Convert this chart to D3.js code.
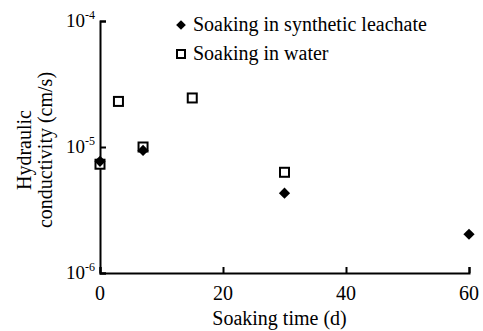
<!DOCTYPE html>
<html>
<head>
<meta charset="utf-8">
<script src="https://cdn.jsdelivr.net/npm/d3@7"></script>
<style>
  body { margin: 0; background: #fff; }
</style>
</head>
<body>
<div id="chart"></div>
<script>
// data
var leachateDays = [0, 7, 30, 60];
var leachateK = [7.7e-6, 9.4e-6, 4.3e-6, 2.03e-6];
var waterDays = [0, 3, 7, 15, 30];
var waterK = [7.3e-6, 2.3e-5, 1.0e-5, 2.45e-5, 6.3e-6];
var xTicks = [0, 20, 40, 60];
var yTicks = [1e-6, 1e-5, 1e-4];
var yExponents = ["-6", "-5", "-4"];
var legendLabels = ["Soaking in synthetic leachate", "Soaking in water"];

var width = 483, height = 331;
var margin = { top: 21, right: 14, bottom: 58, left: 100 };
var serif = "'Liberation Serif', 'Times New Roman', serif";

var svg = d3.select("#chart")
    .append("svg")
    .attr("width", width)
    .attr("height", height)
    .attr("font-family", serif);

var x = d3.scaleLinear()
    .domain([0, 60])
    .range([margin.left, width - margin.right]);

var y = d3.scaleLog()
    .domain([1e-6, 1e-4])
    .range([height - margin.bottom, margin.top]);

// axes, ticks pointing inward
var xAxis = svg.append("g")
    .attr("transform", "translate(0," + (height - margin.bottom) + ")")
    .call(d3.axisTop(x).tickValues(xTicks).tickSize(6).tickFormat(""));
var yAxis = svg.append("g")
    .attr("transform", "translate(" + margin.left + ",0)")
    .call(d3.axisRight(y).tickValues(yTicks).tickSize(6).tickFormat(""));

[xAxis, yAxis].forEach(function (g) {
    g.select(".domain").attr("stroke", "#000").attr("stroke-width", 2);
    g.selectAll(".tick line").attr("stroke", "#000").attr("stroke-width", 2);
});

// tick labels
svg.selectAll(".xlab")
    .data(xTicks)
    .enter()
    .append("text")
    .attr("x", function (d) { return x(d); })
    .attr("y", height - margin.bottom + 27)
    .attr("text-anchor", "middle")
    .style("font-size", "20px")
    .text(function (d) { return d; });

var ylab = svg.selectAll(".ylab")
    .data(yTicks)
    .enter()
    .append("text")
    .attr("x", margin.left - 5)
    .attr("y", function (d) { return y(d) + 6; })
    .attr("text-anchor", "end")
    .style("font-size", "19px");
ylab.append("tspan").text("10");
ylab.append("tspan")
    .attr("dy", -8)
    .style("font-size", "12px")
    .text(function (d, i) { return yExponents[i]; });

// axis titles
svg.append("text")
    .attr("x", (margin.left + width - margin.right) / 2 - 5)
    .attr("y", 325)
    .attr("text-anchor", "middle")
    .style("font-size", "20px")
    .text("Soaking time (d)");

var ytitle = svg.append("text")
    .attr("transform", "translate(0,150) rotate(-90)")
    .attr("text-anchor", "middle")
    .style("font-size", "20px");
ytitle.append("tspan").attr("x", 0).attr("y", 31).text("Hydraulic");
ytitle.append("tspan").attr("x", 0).attr("y", 52).text("conductivity (cm/s)");

// markers
var diamond = d3.symbol().type(d3.symbolDiamond2).size(80);

svg.append("g")
    .selectAll("rect")
    .data(waterDays)
    .enter()
    .append("rect")
    .attr("x", function (d) { return x(d) - 4.5; })
    .attr("y", function (d, i) { return y(waterK[i]) - 4.5; })
    .attr("width", 9)
    .attr("height", 9)
    .attr("fill", "#fff")
    .attr("stroke", "#000")
    .attr("stroke-width", 2);

svg.append("g")
    .selectAll("path")
    .data(leachateDays)
    .enter()
    .append("path")
    .attr("d", diamond)
    .attr("transform", function (d, i) {
        return "translate(" + x(d) + "," + y(leachateK[i]) + ")";
    })
    .attr("fill", "#000");

// legend
var legend = svg.append("g");
legend.append("path")
    .attr("d", d3.symbol().type(d3.symbolDiamond2).size(60))
    .attr("transform", "translate(181,25)")
    .attr("fill", "#000");
legend.append("rect")
    .attr("x", 177)
    .attr("y", 50)
    .attr("width", 8)
    .attr("height", 8)
    .attr("fill", "#fff")
    .attr("stroke", "#000")
    .attr("stroke-width", 2);
legend.selectAll("text")
    .data(legendLabels)
    .enter()
    .append("text")
    .attr("x", 193)
    .attr("y", function (d, i) { return 31 + i * 29; })
    .style("font-size", "20px")
    .text(function (d) { return d; });
</script>
</body>
</html>
